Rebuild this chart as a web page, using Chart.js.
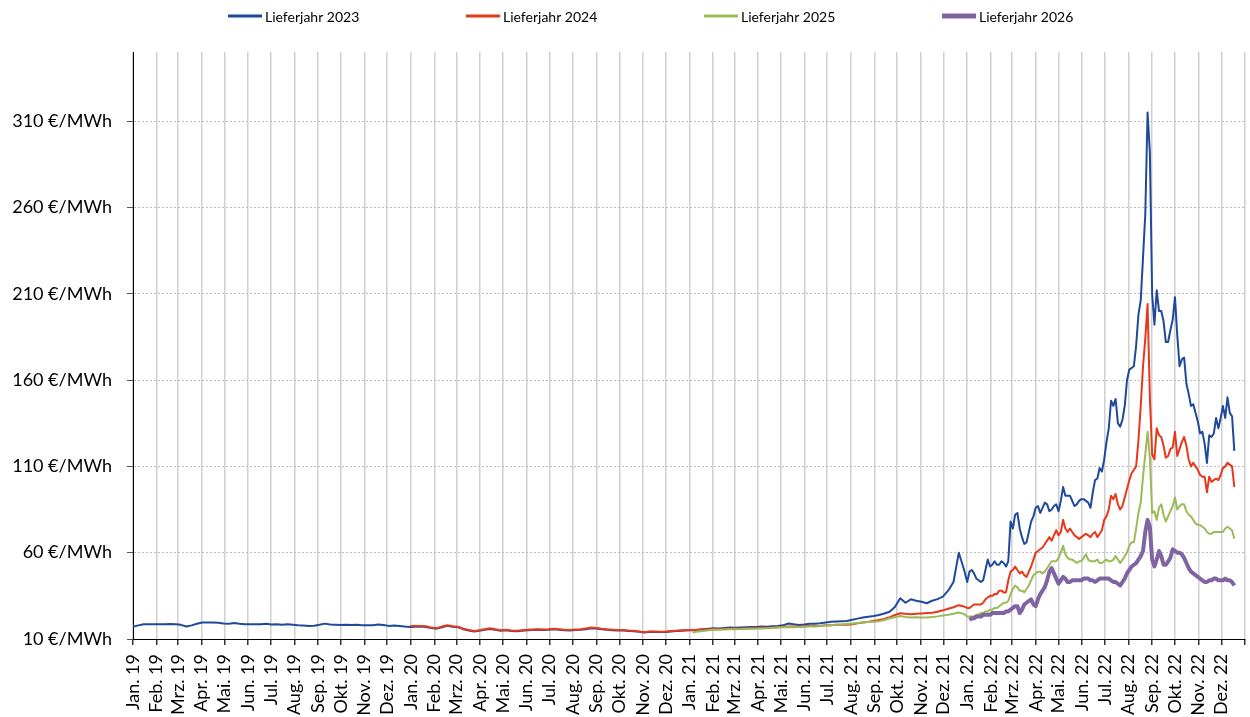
<!DOCTYPE html>
<html>
<head>
<meta charset="utf-8">
<script src="https://cdn.jsdelivr.net/npm/chart.js@4.4.0/dist/chart.umd.min.js"></script>
<style>
  body { margin: 0; background: #fff; }
  canvas { display: block; }
</style>
</head>
<body>
<canvas id="gasChart" width="1250" height="717"></canvas>
<script>
// Monatsachse Jan. 19 bis Dez. 22
const monthNames = ["Jan.", "Feb.", "Mrz.", "Apr.", "Mai.", "Jun.", "Jul.", "Aug.", "Sep.", "Okt.", "Nov.", "Dez."];
const yearLabels = ["19", "20", "21", "22"];
const yTicks = [10, 60, 110, 160, 210, 260, 310];

// wöchentliche Werte 2019-2021 (Woche 0 = 1.1.2019)
const lj23Weekly = [
  17.1, 17.9, 18.5, 18.5, 18.6, 18.6, 18.5, 18.7, 18.6, 18.2, 17.2, 17.9, 18.8, 19.6, 19.5, 19.6, 19.4, 19, 18.9, 19.2,
  18.8, 18.6, 18.5, 18.6, 18.5, 18.8, 18.4, 18.5, 18.3, 18.6, 18.3, 18, 17.8, 17.6, 17.7, 18.2, 18.9, 18.4, 18.3, 18.1,
  18.2, 18.1, 18.2, 17.9, 17.9, 18, 18.4, 18.1, 17.6, 17.8, 17.5, 17.2, 17,
  17.1, 17.2, 17, 16.3, 16, 16.8, 17.6, 17.1, 16.8, 15.7, 14.9, 14.4, 14.8, 15.3, 15.8, 15.3, 14.8, 15, 14.6, 14.5,
  14.8, 15, 15.2, 15.3, 15.2, 15.3, 15.6, 15.4, 15, 14.9, 15.2, 15.3, 15.7, 16.2, 16.1, 15.6, 15.3, 15.1, 14.9, 14.9,
  14.6, 14.5, 14.2, 13.8, 14.2, 14.1, 14, 14.1, 14.4, 14.6, 14.8, 15,
  15.1, 15.4, 15.7, 16, 16.2, 16.1, 16.4, 16.6, 16.5, 16.7, 16.8, 16.9, 17, 17.2, 17.1, 17.4, 17.5, 17.9, 19, 18.5,
  18.1, 18.4, 18.8, 18.9, 19.1, 19.6, 20, 20.2, 20.3, 20.4, 21.1, 21.8, 22.4, 22.9, 23.3, 23.9, 24.8, 25.8, 28.5, 33.6,
  31, 33, 32.2, 31.6, 30.7, 32.2, 33.1, 34.5, 38, 43, 60, 50
];
const lj24Weekly = [ // ab Woche 52
  17.5, 17.5, 17.6, 17.4, 16.6, 16.3, 17.2, 18, 17.4, 17.1, 16, 15.2, 14.6, 15.1, 15.6, 16.2, 15.6, 15.1, 15.3, 14.9,
  14.8, 15.1, 15.3, 15.5, 15.6, 15.5, 15.6, 16, 15.7, 15.3, 15.2, 15.5, 15.6, 16.1, 16.6, 16.4, 15.9, 15.6, 15.4, 15.2,
  15.2, 14.9, 14.8, 14.4, 13.9, 14.4, 14.3, 14.2, 14.3, 14.6, 14.8, 15, 15.1,
  15.2, 15.3, 15.5, 15.6, 15.8, 15.7, 15.9, 16, 16.1, 16, 16.1, 16.2, 16.3, 16.5, 16.4, 16.6, 16.8, 17.1, 17.2, 17.3,
  17.1, 17.4, 17.6, 17.5, 17.6, 17.9, 18, 18.2, 18.3, 18.2, 18.6, 19.1, 19.6, 20, 20.5, 21, 21.6, 22.7, 23.9, 24.9,
  24.6, 24.4, 24.6, 24.8, 25, 25.2, 25.8, 26.6, 27.5, 28.4, 29.6, 28.8
];
const lj25Weekly = [ // ab Woche 105
  13.8, 14.3, 14.6, 15.1, 15.4, 15.3, 15.5, 15.6, 15.7, 15.8, 16, 15.9, 16, 16.1, 16.2, 16.4, 16.6, 16.8, 16.9, 16.8,
  17, 17.1, 17.3, 17.2, 17.5, 17.8, 18, 18.2, 18.4, 18.7, 19, 19.2, 19.5, 19.8, 20, 20.3, 21, 22, 22.6, 23.3,
  22.8, 22.5, 22.6, 22.5, 22.4, 22.7, 23.1, 23.6, 24, 24.6, 25.3, 24.5
];

// 2022 alle 3 Tage (Tag 0 = 1.1.2022)
const lj23In2022 = [
  43, 49, 50, 48, 45, 44, 43, 44, 50, 56, 52, 53, 55, 53, 53, 55, 54, 52, 55, 78,
  74, 82, 83, 74, 69, 65, 66, 72, 78, 81, 86, 87, 83, 86, 89, 88, 84, 85, 87, 88,
  84, 90, 98, 93, 93, 93, 90, 87, 88, 90, 91, 91, 90, 89, 86, 95, 102, 103, 109, 107,
  114, 124, 132, 148, 145, 149, 135, 133, 137, 145, 160, 166, 167, 168, 180, 198, 206, 231, 256, 315,
  292, 210, 192, 212, 200, 200, 194, 182, 182, 189, 195, 208, 186, 168, 172, 173, 158, 152, 145, 146,
  141, 136, 129, 130, 123, 112, 128, 127, 129, 138, 132, 138, 145, 138, 150, 141, 139, 119
];
const lj24In2022 = [
  28, 28, 29, 30, 30, 30, 30, 31, 33, 34, 35, 35, 36, 36, 38, 38, 37, 37, 44, 49,
  50, 52, 50, 48, 49, 47, 46, 49, 52, 56, 60, 61, 62, 63, 65, 67, 69, 67, 70, 73,
  70, 72, 79, 74, 72, 74, 72, 70, 69, 68, 69, 70, 71, 70, 69, 71, 72, 69, 71, 73,
  79, 81, 85, 93, 91, 94, 88, 85, 87, 92, 97, 102, 106, 108, 110, 125, 145, 168, 184, 204,
  150, 117, 114, 132, 128, 127, 122, 115, 116, 120, 121, 130, 116, 120, 124, 127, 122, 114, 110, 112,
  110, 108, 105, 104, 104, 95, 104, 101, 102, 103, 102, 105, 109, 110, 112, 111, 110, 98
];
const lj25In2022 = [
  23, 23, 23, 23, 24, 24, 25, 25, 26, 26, 27, 27, 28, 28, 29, 30, 31, 31, 32, 36,
  39, 41, 40, 38, 38, 37, 39, 41, 44, 47, 48, 49, 49, 48, 49, 51, 53, 55, 55, 55,
  57, 60, 64, 59, 57, 56, 56, 55, 54, 55, 55, 57, 59, 56, 55, 55, 55, 56, 54, 54,
  55, 56, 55, 55, 56, 58, 56, 54, 56, 58, 60, 64, 66, 66, 74, 83, 89, 104, 117, 130,
  115, 83, 84, 79, 86, 88, 82, 78, 81, 84, 87, 92, 85, 87, 88, 88, 84, 82, 81, 79,
  77, 76, 76, 75, 74, 72, 71, 71, 72, 72, 72, 72, 72, 74, 75, 74, 73, 68
];
const lj26In2022 = [ // ab Tag 3
  21, 22, 22, 23, 23, 23, 24, 24, 24, 24, 25, 25, 25, 25, 25, 25, 26, 26, 27, 28,
  29, 29, 25, 27, 30, 31, 32, 33, 30, 29, 33, 36, 38, 40, 44, 49, 51, 48, 45, 42,
  44, 46, 45, 43, 43, 44, 44, 44, 44, 44, 45, 45, 45, 44, 44, 43, 44, 45, 45, 45,
  45, 45, 44, 43, 43, 42, 41, 43, 45, 48, 50, 52, 53, 54, 56, 58, 61, 72, 79, 75,
  56, 52, 56, 61, 58, 53, 53, 55, 57, 62, 61, 60, 60, 59, 57, 54, 51, 49, 48, 47,
  46, 45, 44, 43, 43, 44, 44, 45, 45, 44, 44, 44, 45, 44, 44, 43, 41
];

const dayMs = 86400000;
const origin = Date.UTC(2019, 0, 1);
const start2022 = (Date.UTC(2022, 0, 1) - origin) / dayMs;

const monthLabels = [];
yearLabels.forEach((y) => monthNames.forEach((m) => monthLabels.push(m + " " + y)));
const monthStarts = [];
for (let i = 0; i <= 48; i++) monthStarts.push((Date.UTC(2019, i, 1) - origin) / dayMs);

function weekly(values, firstWeek) {
  return values.map((v, i) => ({ x: (firstWeek + i) * 7, y: v }));
}
function in2022(values, firstDay) {
  return values.map((v, i) => ({ x: start2022 + firstDay + i * 3, y: v }));
}

Chart.defaults.font.family = "Lato, 'Liberation Sans', sans-serif";
Chart.defaults.color = "#000";

// eigene Legende oben
const topLegend = {
  id: "topLegend",
  afterDraw(chart) {
    const ctx = chart.ctx;
    ctx.save();
    ctx.font = "14px Lato";
    ctx.textBaseline = "middle";
    chart.data.datasets.forEach((ds, i) => {
      const x = 228 + i * 238;
      const y = 16;
      ctx.strokeStyle = ds.borderColor;
      ctx.lineWidth = ds.borderWidth + 1;
      ctx.beginPath();
      ctx.moveTo(x, y);
      ctx.lineTo(x + 34, y);
      ctx.stroke();
      ctx.fillStyle = "#000";
      ctx.fillText(ds.label, x + 37, y + 1);
    });
    ctx.restore();
  },
};

const config = {
  type: "line",
  data: {
    datasets: [
      {
        label: "Lieferjahr 2023",
        data: weekly(lj23Weekly, 0).concat(in2022(lj23In2022, 0)),
        borderColor: "#1f4a9b",
        borderWidth: 2,
        order: 4,
      },
      {
        label: "Lieferjahr 2024",
        data: weekly(lj24Weekly, 52).concat(in2022(lj24In2022, 0)),
        borderColor: "#e8381b",
        borderWidth: 2,
        order: 3,
      },
      {
        label: "Lieferjahr 2025",
        data: weekly(lj25Weekly, 105).concat(in2022(lj25In2022, 0)),
        borderColor: "#9bbb59",
        borderWidth: 2,
        order: 2,
      },
      {
        label: "Lieferjahr 2026",
        data: in2022(lj26In2022, 3),
        borderColor: "#8064a2",
        borderWidth: 4,
        order: 1,
      },
    ],
  },
  options: {
    responsive: false,
    animation: false,
    elements: {
      point: { radius: 0 },
      line: { tension: 0, borderJoinStyle: "round" },
    },
    layout: { padding: { top: 52, right: 5, left: 0, bottom: 0 } },
    plugins: {
      legend: { display: false },
      tooltip: { enabled: false },
    },
    scales: {
      x: {
        type: "linear",
        min: 0,
        max: monthStarts[48],
        afterBuildTicks(scale) {
          scale.ticks = monthStarts.map((v) => ({ value: v }));
        },
        afterFit(scale) {
          scale.height = 78;
          scale.paddingLeft = 0;
          scale.paddingRight = 0;
        },
        ticks: {
          autoSkip: false,
          minRotation: 90,
          maxRotation: 90,
          padding: 9,
          font: { size: 18 },
          callback: (value, index) => monthLabels[index] || "",
        },
        grid: { color: "#cfcfcf", lineWidth: 1.5, tickColor: "#333", tickLength: 6 },
        border: { color: "#000", width: 1 },
      },
      y: {
        min: 10,
        max: 350,
        afterBuildTicks(scale) {
          scale.ticks = yTicks.map((v) => ({ value: v }));
        },
        afterFit(scale) {
          scale.width = 133;
        },
        ticks: {
          padding: 15,
          font: { size: 18 },
          callback: (value) => value + " €/MWh",
        },
        grid: { color: "#bdbdbd", lineWidth: 1, tickColor: "#555", tickLength: 6 },
        border: { color: "#000", width: 1, dash: [2, 2] },
      },
    },
  },
  plugins: [topLegend],
};

const gasChart = new Chart(document.getElementById("gasChart"), config);
</script>
</body>
</html>
